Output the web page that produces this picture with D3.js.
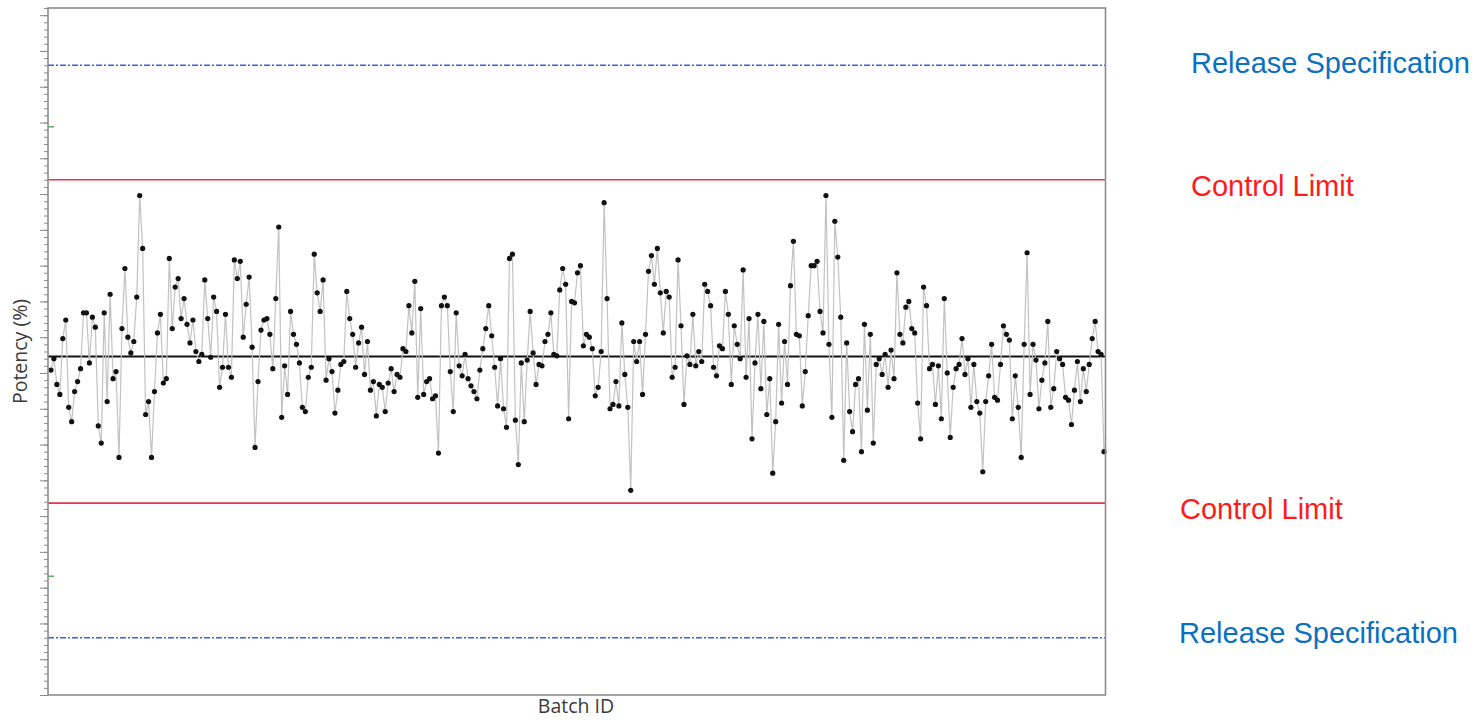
<!DOCTYPE html>
<html>
<head>
<meta charset="utf-8">
<script src="https://cdn.jsdelivr.net/npm/d3@7/dist/d3.min.js"></script>
<style>
  body { margin: 0; background: #ffffff; }
  svg { display: block; }
</style>
</head>
<body>
<svg id="chart" width="1476" height="720"></svg>
<script>
// Potency (%) per batch, in batch order
const potency = [
  98.7, 99.5, 97.7, 97.0, 100.9, 102.2, 96.1, 95.1, 97.2, 97.9,
  98.8, 102.7, 102.7, 99.2, 102.4, 101.7, 94.8, 93.6, 102.7, 96.5,
  104.0, 98.1, 98.6, 92.6, 101.6, 105.8, 101.0, 99.9, 100.7, 103.8,
  110.9, 107.2, 95.6, 96.5, 92.6, 97.2, 101.3, 102.6, 97.8, 98.1,
  106.5, 101.6, 104.5, 105.1, 102.3, 103.7, 101.9, 100.6, 102.2, 100.0,
  99.3, 99.8, 105.0, 102.3, 99.6, 103.8, 102.8, 97.5, 98.9, 102.6,
  98.9, 98.2, 106.4, 105.1, 106.3, 101.0, 103.3, 105.2, 100.3, 93.3,
  97.9, 101.5, 102.2, 102.3, 101.2, 98.8, 103.7, 108.7, 95.4, 99.0,
  97.0, 102.8, 101.2, 100.5, 99.2, 96.1, 95.8, 98.2, 98.9, 106.8,
  104.1, 102.8, 105.0, 98.0, 99.5, 98.6, 95.7, 97.3, 99.1, 99.3,
  104.2, 102.3, 101.2, 98.9, 100.6, 101.7, 98.4, 100.7, 97.3, 97.9,
  95.5, 97.7, 97.5, 95.8, 97.8, 98.8, 97.2, 98.4, 98.2, 100.2,
  100.0, 103.2, 101.3, 104.9, 96.8, 103.0, 97.0, 97.9, 98.1, 96.7,
  96.9, 92.9, 103.2, 103.8, 103.2, 98.6, 95.8, 102.7, 99.0, 98.3,
  99.8, 98.1, 97.6, 97.2, 96.7, 98.7, 100.2, 101.6, 103.2, 101.1,
  98.9, 96.2, 99.5, 96.0, 94.7, 106.5, 106.8, 95.2, 92.1, 99.2,
  95.1, 99.4, 102.8, 99.9, 97.7, 99.1, 99.0, 100.7, 101.2, 102.7,
  99.8, 99.7, 104.3, 105.8, 104.7, 95.3, 103.5, 103.4, 105.5, 106.0,
  100.4, 101.2, 101.0, 100.2, 96.9, 97.5, 100.0, 110.4, 103.7, 96.0,
  96.3, 97.9, 96.2, 102.0, 98.4, 96.1, 90.3, 100.7, 99.3, 100.7,
  97.0, 101.2, 105.6, 106.7, 104.7, 107.2, 104.1, 101.3, 104.2, 103.8,
  98.2, 98.9, 106.4, 101.8, 96.3, 99.7, 99.1, 102.6, 99.0, 100.0,
  99.3, 104.7, 104.2, 103.2, 98.9, 98.3, 100.4, 100.2, 104.2, 102.6,
  97.7, 101.8, 100.5, 99.5, 105.7, 98.2, 102.3, 93.9, 99.2, 102.6,
  97.4, 102.1, 95.6, 98.1, 91.5, 95.1, 101.9, 96.4, 100.7, 97.7,
  104.6, 107.7, 101.2, 101.1, 96.2, 98.6, 102.5, 106.0, 106.0, 106.3,
  102.8, 101.3, 110.9, 100.5, 95.4, 109.1, 106.6, 102.4, 92.4, 100.6,
  95.8, 94.4, 97.7, 98.1, 93.0, 101.9, 95.9, 101.2, 93.6, 99.1,
  99.5, 98.4, 99.8, 97.5, 100.1, 98.1, 105.5, 101.2, 100.6, 103.1,
  103.5, 101.6, 101.3, 96.4, 93.9, 104.5, 103.2, 98.8, 99.1, 96.3,
  99.0, 95.3, 103.7, 98.5, 94.0, 97.5, 98.8, 99.1, 100.9, 98.4,
  99.5, 96.1, 99.1, 96.5, 95.7, 91.6, 96.5, 98.3, 100.5, 96.8,
  96.6, 99.1, 101.8, 101.2, 100.8, 95.3, 98.3, 96.1, 92.6, 100.5,
  106.9, 97.0, 100.5, 99.4, 96.0, 98.0, 99.2, 102.1, 96.1, 97.4,
  100.0, 99.5, 99.1, 96.8, 96.6, 94.9, 97.3, 99.3, 96.5, 98.8,
  97.2, 99.1, 100.9, 102.1, 100.0, 99.8, 93.0
];

// Reference levels (%)
const centerLine = 99.65;
const controlLimits = [112.0, 89.4];
const releaseSpecs = [120.0, 80.0];
const alertMarks = [115.7, 84.3];
const yDomain = [76, 124];
const minorStep = 0.5;
const majorStep = 2.5;

// Axis titles and annotations
const yTitle = "Potency (%)";
const xTitle = "Batch ID";
const specLabel = "Release Specification";
const controlLabel = "Control Limit";

const svg = d3.select("#chart");
const plot = { left: 48, right: 1105.5, top: 8, bottom: 695 };

const batches = d3.range(potency.length);
const x = d3.scaleLinear()
  .domain([-1, potency.length - 0.5])
  .range([plot.left, plot.right]);
const y = d3.scaleLinear()
  .domain(yDomain)
  .range([plot.bottom, plot.top]);

// Left axis: minor and major ticks, no labels
const minorTicks = d3.range(yDomain[0], yDomain[1] + 1e-9, minorStep);
const majorTicks = minorTicks.filter(v => Math.abs((v - yDomain[0]) / majorStep - Math.round((v - yDomain[0]) / majorStep)) < 1e-6);

const axisG = svg.append("g").attr("transform", `translate(${plot.left},0)`);
axisG.call(d3.axisLeft(y).tickValues(minorTicks).tickSize(4).tickFormat(""));
axisG.append("g").call(d3.axisLeft(y).tickValues(majorTicks).tickSize(8).tickFormat(""));
axisG.selectAll(".domain").remove();
axisG.selectAll("line").attr("stroke", "#8a8a8a").attr("stroke-width", 1);

// Small green markers inside the left edge
svg.append("g").selectAll("line").data(alertMarks).join("line")
  .attr("x1", plot.left).attr("x2", plot.left + 6)
  .attr("y1", d => y(d)).attr("y2", d => y(d))
  .attr("stroke", "#4cbb4c").attr("stroke-width", 1.5);

// Release specification lines (dash-dot)
svg.append("g").selectAll("line").data(releaseSpecs).join("line")
  .attr("x1", plot.left).attr("x2", plot.right)
  .attr("y1", d => y(d)).attr("y2", d => y(d))
  .attr("stroke", "#2f62e6").attr("stroke-width", 1.5)
  .attr("stroke-dasharray", "6,2,2,2");

// Control limit lines
svg.append("g").selectAll("line").data(controlLimits).join("line")
  .attr("x1", plot.left).attr("x2", plot.right)
  .attr("y1", d => y(d)).attr("y2", d => y(d))
  .attr("stroke", "#e8334a").attr("stroke-width", 1.7);

// Center line
svg.append("line")
  .attr("x1", plot.left).attr("x2", plot.right)
  .attr("y1", y(centerLine)).attr("y2", y(centerLine))
  .attr("stroke", "#111111").attr("stroke-width", 2);

// Series line and markers
const line = d3.line().x((d, i) => x(batches[i])).y(d => y(d));
svg.append("path")
  .datum(potency)
  .attr("d", line)
  .attr("fill", "none")
  .attr("stroke", "#c2c2c2")
  .attr("stroke-width", 1.2);

svg.append("g").selectAll("circle").data(potency).join("circle")
  .attr("cx", (d, i) => x(batches[i]))
  .attr("cy", d => y(d))
  .attr("r", 2.6)
  .attr("fill", "#111111");

// Plot frame
svg.append("rect")
  .attr("x", plot.left).attr("y", plot.top)
  .attr("width", plot.right - plot.left).attr("height", plot.bottom - plot.top)
  .attr("fill", "none").attr("stroke", "#8c8c8c").attr("stroke-width", 1.6);

// Axis titles
svg.append("text")
  .attr("transform", `translate(27,${(plot.top + plot.bottom) / 2}) rotate(-90)`)
  .attr("text-anchor", "middle")
  .attr("font-family", "'Open Sans', 'Noto Sans', sans-serif")
  .attr("font-size", 19.5)
  .attr("fill", "#3a3a3a")
  .text(yTitle);

svg.append("text")
  .attr("x", 576)
  .attr("y", 713)
  .attr("text-anchor", "middle")
  .attr("font-family", "'Open Sans', 'Noto Sans', sans-serif")
  .attr("font-size", 19.5)
  .attr("fill", "#3a3a3a")
  .text(xTitle);

// Annotations to the right of the plot
const notes = [
  { text: specLabel, value: releaseSpecs[0], x: 1191, dy: 7.5, color: "#0a70c2" },
  { text: controlLabel, value: controlLimits[0], x: 1191, dy: 16.5, color: "#ff1a1a" },
  { text: controlLabel, value: controlLimits[1], x: 1180, dy: 15.5, color: "#ff1a1a" },
  { text: specLabel, value: releaseSpecs[1], x: 1179, dy: 5.5, color: "#0a70c2" }
];
svg.append("g").selectAll("text").data(notes).join("text")
  .attr("x", d => d.x)
  .attr("y", d => y(d.value) + d.dy)
  .attr("font-family", "'Liberation Sans', Arial, sans-serif")
  .attr("font-size", 29)
  .attr("fill", d => d.color)
  .text(d => d.text);
</script>
</body>
</html>
